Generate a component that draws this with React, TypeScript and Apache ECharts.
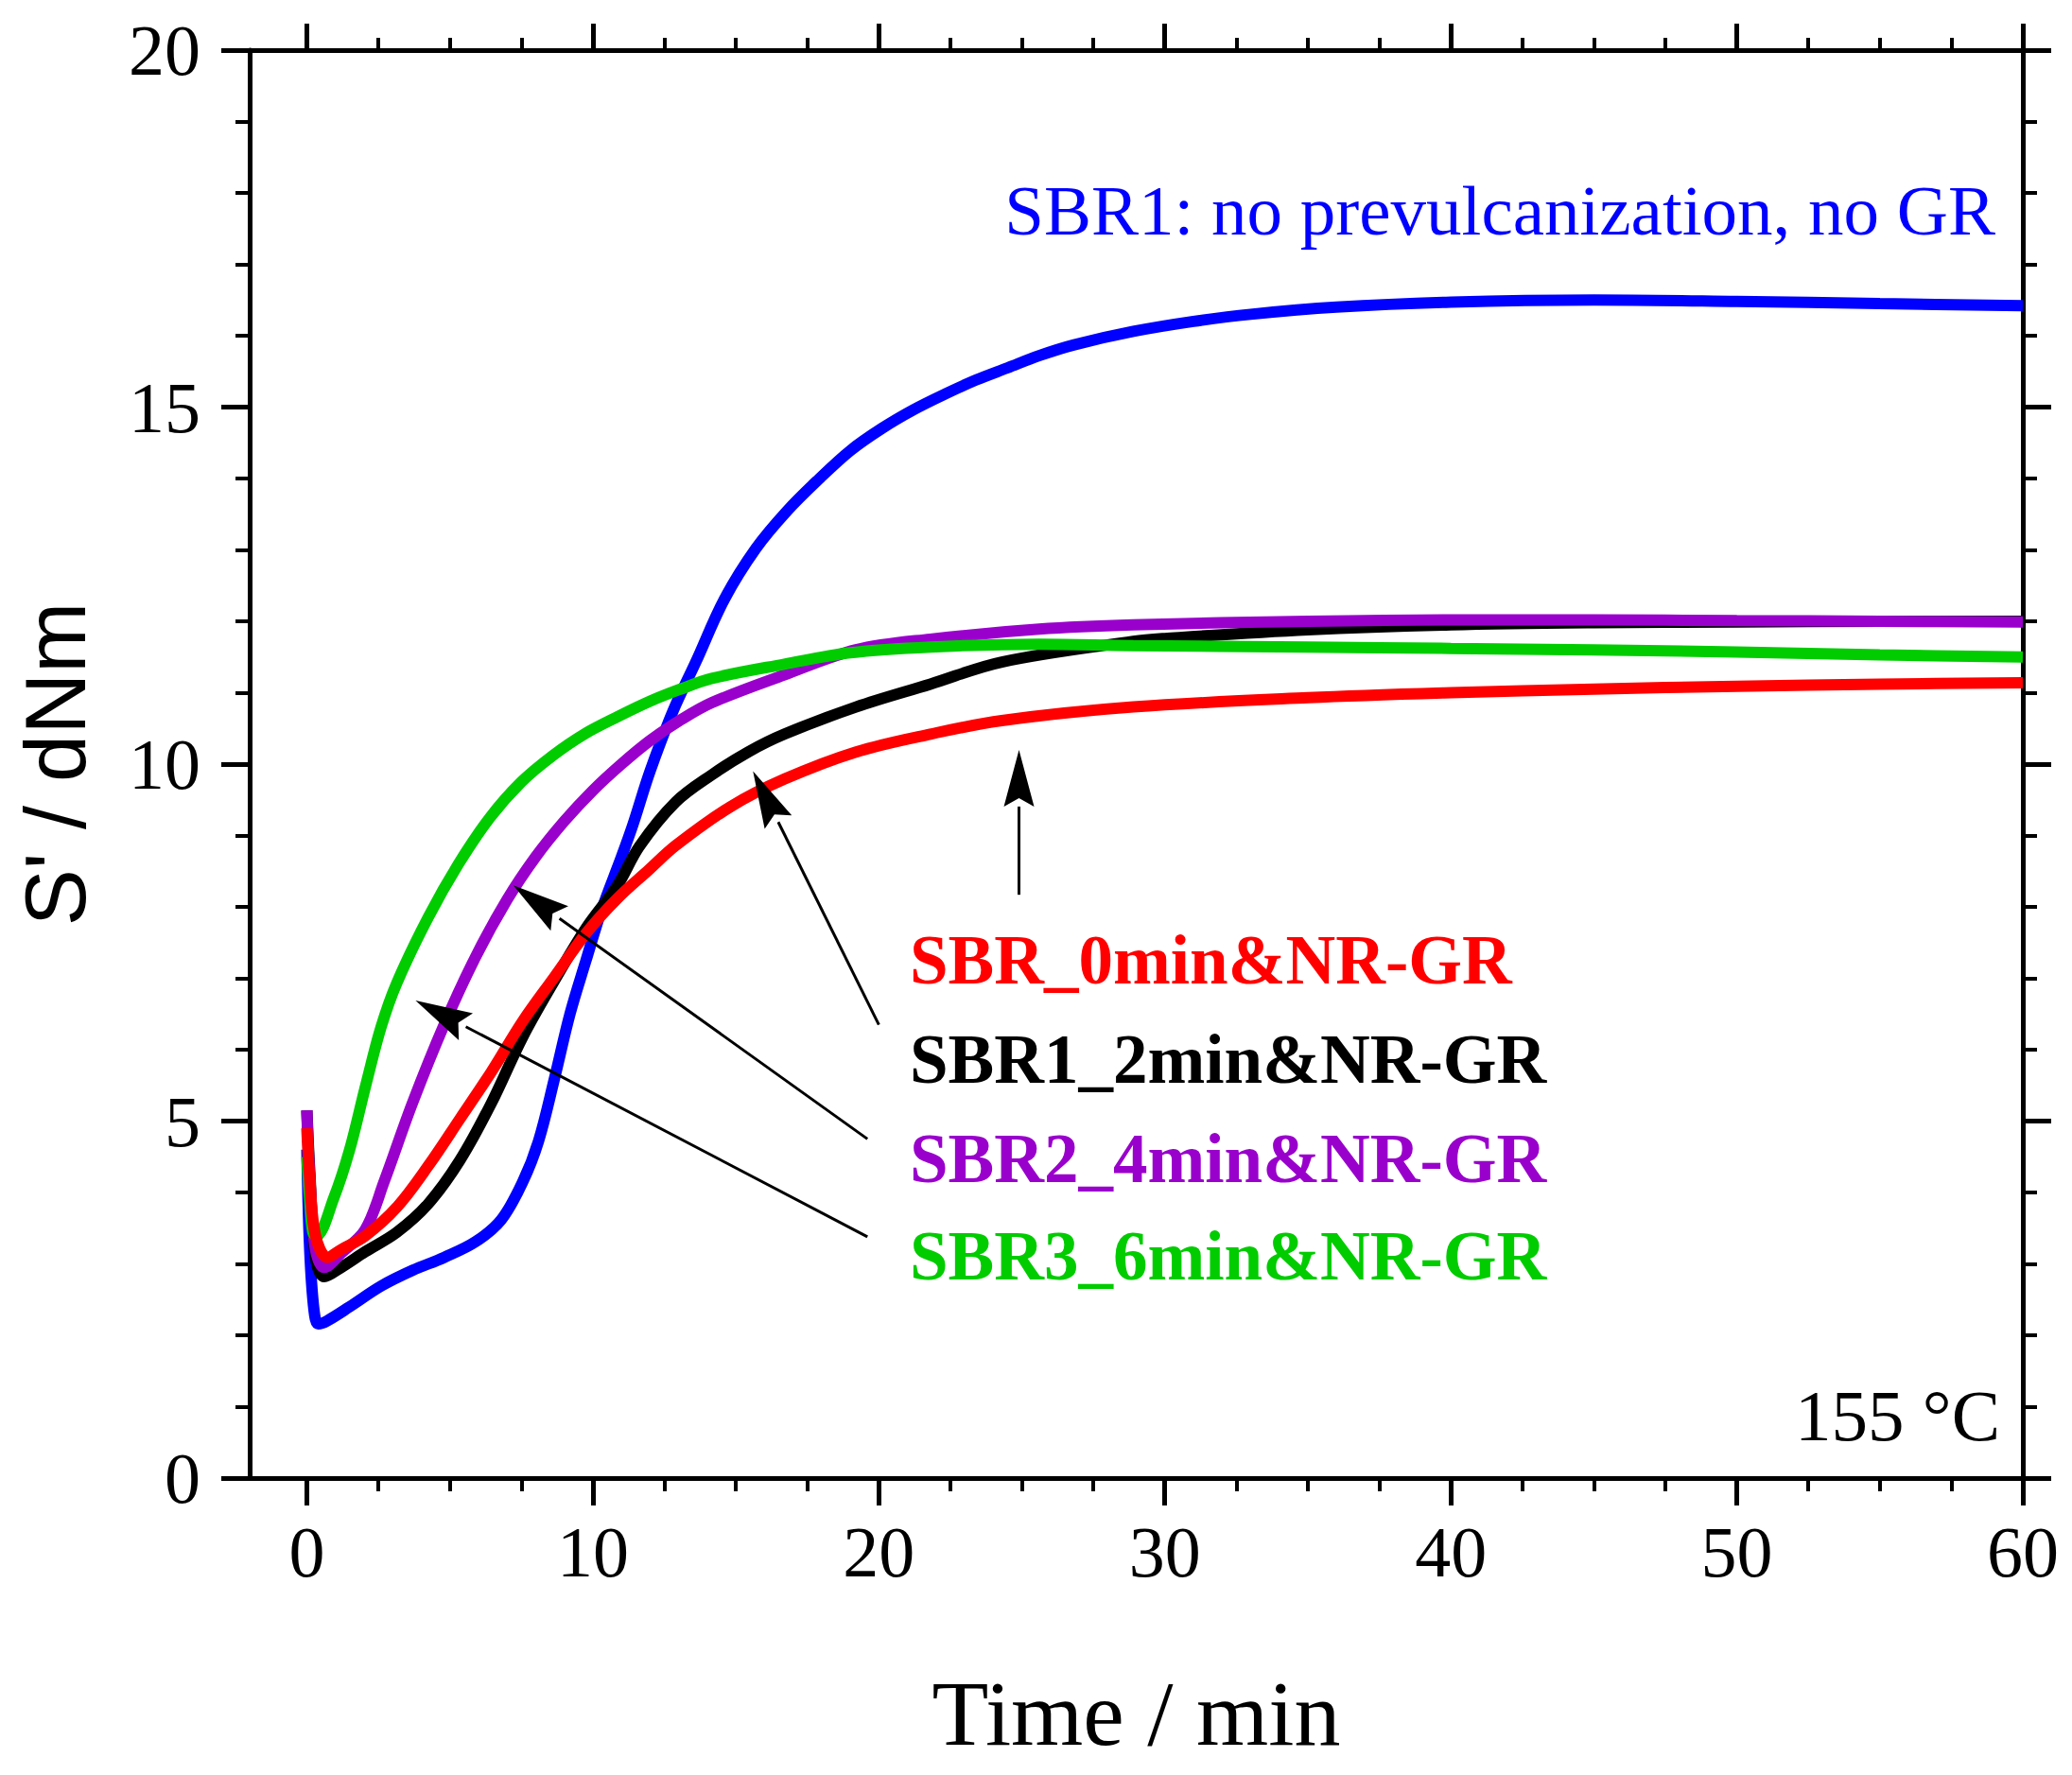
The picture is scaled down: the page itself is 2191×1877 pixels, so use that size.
import React, { useEffect, useRef } from "react";
import * as echarts from "echarts";

// S' curves: [time / min, S' / dNm]
const sbr1NoGr: number[][] = [
  [0, 4.6], [0.1, 3.2], [0.25, 2.35], [0.4, 2.16], [0.7, 2.2], [1.5, 2.4],
  [2.6, 2.69], [3.7, 2.91], [4.8, 3.09], [5.9, 3.31], [6.8, 3.62], [7.55, 4.15],
  [8.1, 4.72], [8.66, 5.6], [9.2, 6.5], [9.76, 7.25], [10.3, 7.95], [11.0, 8.7],
  [11.4, 9.15], [12.0, 9.9], [12.8, 10.74], [13.6, 11.43], [14.6, 12.31],
  [15.7, 13.02], [16.8, 13.55], [17.9, 13.99], [19.0, 14.39], [20.1, 14.7],
  [21.2, 14.96], [22.3, 15.18], [23.4, 15.38], [24.5, 15.55], [25.6, 15.72],
  [26.8, 15.87], [28.9, 16.06], [31, 16.2], [33, 16.3], [36, 16.4], [40, 16.47],
  [45, 16.5], [50, 16.48], [55, 16.45], [60, 16.42],
];

const sbr0min: number[][] = [
  [0, 4.9], [0.1, 4.2], [0.3, 3.4], [0.72, 3.09], [1.2, 3.2], [2.04, 3.39],
  [3.14, 3.79], [4.24, 4.37], [5.35, 5.03], [6.45, 5.69], [7.55, 6.4],
  [8.66, 7.02], [9.76, 7.63], [10.86, 8.12], [11.96, 8.52], [12.9, 8.86],
  [14.8, 9.4], [16.7, 9.79], [19.2, 10.17], [21.8, 10.42], [24.3, 10.61],
  [28.9, 10.8], [35, 10.93], [40, 11.0], [45, 11.05], [50, 11.09],
  [55, 11.12], [60, 11.14],
];

const sbr2min: number[][] = [
  [0, 5.15], [0.1, 4.3], [0.3, 3.1], [0.61, 2.82], [1.2, 2.95], [2.04, 3.17],
  [3.14, 3.44], [4.24, 3.84], [5.35, 4.45], [6.45, 5.25], [7.55, 6.18],
  [8.66, 6.97], [9.76, 7.7], [10.86, 8.3], [11.63, 8.85], [12.9, 9.47],
  [14.16, 9.85], [15.43, 10.17], [16.7, 10.42], [19.2, 10.8], [21.8, 11.12],
  [24.3, 11.43], [28.9, 11.72], [30, 11.76], [35, 11.88], [40, 11.95],
  [45, 11.98], [50, 11.99], [55, 12.0], [60, 12.0],
];

const sbr4min: number[][] = [
  [0, 5.15], [0.1, 4.2], [0.3, 3.2], [0.61, 2.95], [1.2, 3.15], [2.04, 3.48],
  [2.7, 4.15], [3.69, 5.25], [4.8, 6.35], [5.9, 7.3], [7.0, 8.1],
  [8.0, 8.7], [9.0, 9.2], [10.0, 9.63], [11.0, 10.0], [12.0, 10.33],
  [13.0, 10.6], [14.16, 10.86], [16.7, 11.25], [19.2, 11.6], [21.8, 11.75],
  [25.6, 11.89], [28.9, 11.95], [35, 12.0], [40, 12.02], [45, 12.02],
  [50, 12.01], [55, 12.0], [60, 11.99],
];

const sbr6min: number[][] = [
  [0, 4.5], [0.1, 3.9], [0.2, 3.45], [0.33, 3.39], [0.94, 3.92], [1.49, 4.59],
  [2.04, 5.47], [2.59, 6.31], [3.14, 6.93], [4.24, 7.85], [5.3, 8.6],
  [6.4, 9.25], [7.5, 9.75], [8.6, 10.12], [9.7, 10.42], [10.9, 10.67],
  [12.0, 10.88], [13.0, 11.04], [14.16, 11.2], [16.7, 11.4], [19.0, 11.56],
  [21.8, 11.64], [25.6, 11.68], [28.9, 11.66], [35, 11.64], [40, 11.62],
  [45, 11.6], [50, 11.57], [55, 11.53], [60, 11.5],
];

// arrows: [tail t, tail S', tip t, tip S']
const arrows: number[][] = [
  [24.9, 8.17, 24.9, 10.2],
  [20.0, 6.35, 15.6, 9.9],
  [19.6, 4.75, 7.22, 8.3],
  [19.6, 3.38, 3.8, 6.69],
];

const xMajorTicks = [0, 10, 20, 30, 40, 50, 60];
const xMinorTicks = [
  2.5, 5, 7.5, 12.5, 15, 17.5, 22.5, 25, 27.5, 32.5, 35, 37.5,
  42.5, 45, 47.5, 52.5, 55, 57.5,
];

const seriesNames = [
  "SBR1: no prevulcanization, no GR",
  "SBR1_2min&NR-GR",
  "SBR2_4min&NR-GR",
  "SBR3_6min&NR-GR",
  "SBR_0min&NR-GR",
];
const seriesData = [sbr1NoGr, sbr2min, sbr4min, sbr6min, sbr0min];
const seriesColors = ["#0000ff", "#000000", "#9900cc", "#00cc00", "#ff0000"];

const SERIF = "'Liberation Serif', 'Times New Roman', serif";
const SANS = "'Liberation Sans', Arial, sans-serif";

const App: React.FC = () => {
  const chartRef = useRef<HTMLDivElement>(null);

  useEffect(() => {
    const chartDom = chartRef.current;
    if (!chartDom) return;
    const myChart = echarts.init(chartDom, null, { renderer: "svg" });

    const axisLine = { show: true, onZero: false, lineStyle: { color: "#000", width: 5 } };
    const xBase = { type: "value" as const, min: -2, max: 60, splitLine: { show: false } };

    const option: any = {
      animation: false,
      backgroundColor: "#fff",
      grid: { left: 264, right: 52, top: 53, bottom: 314, containLabel: false },
      xAxis: [
        {
          ...xBase,
          position: "bottom",
          axisLine,
          axisTick: { customValues: xMajorTicks, length: 29, lineStyle: { width: 5, color: "#000" } },
          axisLabel: { customValues: xMajorTicks, fontSize: 76, fontFamily: SERIF, color: "#000", margin: 40 },
          name: "Time / min",
          nameLocation: "middle",
          nameGap: 200,
          nameTextStyle: { fontSize: 98, fontFamily: SERIF, color: "#000" },
        },
        {
          ...xBase,
          position: "bottom",
          axisLine: { show: false, onZero: false },
          axisTick: { customValues: xMinorTicks, length: 14, lineStyle: { width: 4, color: "#000" } },
          axisLabel: { show: false },
        },
        {
          ...xBase,
          position: "top",
          axisLine,
          axisTick: { customValues: xMajorTicks, length: 28, lineStyle: { width: 5, color: "#000" } },
          axisLabel: { show: false },
        },
        {
          ...xBase,
          position: "top",
          axisLine: { show: false, onZero: false },
          axisTick: { customValues: xMinorTicks, length: 13, lineStyle: { width: 4, color: "#000" } },
          axisLabel: { show: false },
        },
      ],
      yAxis: [
        {
          type: "value",
          position: "left",
          min: 0,
          max: 20,
          interval: 5,
          axisLine,
          axisTick: { length: 30, lineStyle: { width: 5, color: "#000" } },
          minorTick: { show: true, splitNumber: 5, length: 15, lineStyle: { width: 4, color: "#000" } },
          axisLabel: { fontSize: 76, fontFamily: SERIF, color: "#000", margin: 52 },
          splitLine: { show: false },
          name: "S' / dNm",
          nameLocation: "middle",
          nameRotate: 90,
          nameGap: 160,
          nameTextStyle: { fontSize: 90, fontFamily: SANS, color: "#000" },
        },
        {
          type: "value",
          position: "right",
          min: 0,
          max: 20,
          interval: 5,
          axisLine,
          axisTick: { length: 30, lineStyle: { width: 5, color: "#000" } },
          minorTick: { show: true, splitNumber: 5, length: 15, lineStyle: { width: 4, color: "#000" } },
          axisLabel: { show: false },
          splitLine: { show: false },
        },
      ],
      series: [
        ...seriesData.map((data, i) => ({
          name: seriesNames[i],
          type: "line",
          data,
          showSymbol: false,
          smooth: 0.35,
          lineStyle: { color: seriesColors[i], width: 12 },
          itemStyle: { color: seriesColors[i] },
          z: 2 + i,
        })),
        {
          type: "custom",
          name: "arrows",
          data: arrows,
          encode: { x: [0, 2], y: [1, 3] },
          z: 10,
          renderItem: (params: any, api: any) => {
            const p0 = api.coord([api.value(0), api.value(1)]);
            const p1 = api.coord([api.value(2), api.value(3)]);
            const dx = p1[0] - p0[0];
            const dy = p1[1] - p0[1];
            const len = Math.sqrt(dx * dx + dy * dy);
            const ux = dx / len;
            const uy = dy / len;
            const headLen = 60;
            const halfW = 16;
            const bx = p1[0] - ux * headLen;
            const by = p1[1] - uy * headLen;
            return {
              type: "group",
              children: [
                {
                  type: "line",
                  shape: { x1: p0[0], y1: p0[1], x2: bx, y2: by },
                  style: { stroke: "#000", lineWidth: 3 },
                },
                {
                  type: "polygon",
                  shape: {
                    points: [
                      [p1[0], p1[1]],
                      [bx - uy * halfW, by + ux * halfW],
                      [p1[0] - ux * headLen * 0.85, p1[1] - uy * headLen * 0.85],
                      [bx + uy * halfW, by - ux * halfW],
                    ],
                  },
                  style: { fill: "#000" },
                },
              ],
            };
          },
        },
      ],
      graphic: [
        {
          type: "text",
          right: 81,
          top: 185,
          style: { text: "SBR1: no prevulcanization, no GR", font: `75px ${SERIF}`, fill: "#0000ff" },
        },
        {
          type: "text",
          right: 76,
          top: 1458,
          style: { text: "155 °C", font: `77px ${SERIF}`, fill: "#000" },
        },
        {
          type: "text",
          left: 962,
          top: 979,
          style: { text: "SBR_0min&NR-GR", font: `bold 73px ${SERIF}`, fill: "#ff0000" },
        },
        {
          type: "text",
          left: 962,
          top: 1084,
          style: { text: "SBR1_2min&NR-GR", font: `bold 73px ${SERIF}`, fill: "#000" },
        },
        {
          type: "text",
          left: 962,
          top: 1189,
          style: { text: "SBR2_4min&NR-GR", font: `bold 73px ${SERIF}`, fill: "#9900cc" },
        },
        {
          type: "text",
          left: 962,
          top: 1292,
          style: { text: "SBR3_6min&NR-GR", font: `bold 73px ${SERIF}`, fill: "#00cc00" },
        },
      ],
    };

    myChart.setOption(option);

    return () => {
      myChart.dispose();
    };
  }, []);

  return (
    <div
      ref={chartRef}
      style={{ position: "absolute", left: 0, top: 0, width: 2191, height: 1877 }}
    />
  );
};

export default App;
